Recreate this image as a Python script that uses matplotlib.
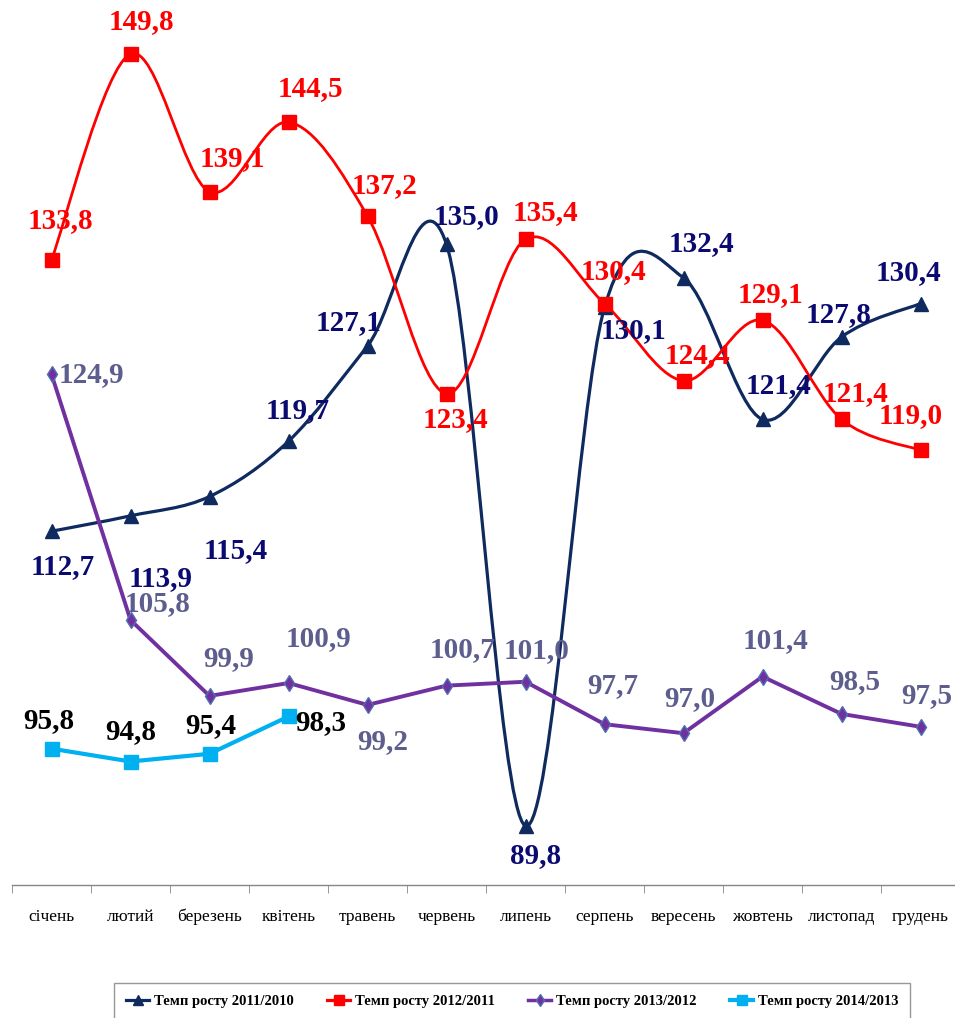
import matplotlib
matplotlib.use("Agg")
import matplotlib.pyplot as plt
from matplotlib.path import Path
from matplotlib.patches import PathPatch
from matplotlib.lines import Line2D

plt.rcParams['font.family'] = ['Liberation Serif', 'DejaVu Serif']

months = ['січень', 'лютий', 'березень', 'квітень', 'травень', 'червень',
          'липень', 'серпень', 'вересень', 'жовтень', 'листопад', 'грудень']
g2011 = [112.7, 113.9, 115.4, 119.7, 127.1, 135.0, 89.8, 130.1, 132.4, 121.4, 127.8, 130.4]
g2012 = [133.8, 149.8, 139.1, 144.5, 137.2, 123.4, 135.4, 130.4, 124.4, 129.1, 121.4, 119.0]
g2013 = [124.9, 105.8, 99.9, 100.9, 99.2, 100.7, 101.0, 97.7, 97.0, 101.4, 98.5, 97.5]
g2014 = [95.8, 94.8, 95.4, 98.3]
names = ['Темп росту 2011/2010', 'Темп росту 2012/2011',
         'Темп росту 2013/2012', 'Темп росту 2014/2013']

# label offsets in pixels (dx, dy)
off2011 = [(11, -35), (30, -63), (26, -54), (9, 31), (-19, 23), (20, 28),
           (10, -30), (29, -23), (18, 34), (16, 34), (-3, 22), (-12, 31)]
off2012 = [(9, 39), (11, 32), (23, 33), (22, 34), (17, 31), (9, -26),
           (20, 27), (9, 32), (14, 25), (8, 26), (14, 26), (-10, 35)]
off2013 = [(40, 0), (27, 16), (19, 37), (30, 44), (15, -37), (16, 36),
           (11, 31), (8, 39), (6, 35), (13, 36), (13, 32), (6, 31)]
off2014 = [(-3, 28), (0, 30), (1, 28), (32, -6)]


def smooth_path(xs, ys):
    pts = list(zip(xs, ys))
    verts = [pts[0]]
    codes = [Path.MOVETO]
    n = len(pts)
    for i in range(n - 1):
        p0 = pts[i - 1] if i > 0 else pts[i]
        p1 = pts[i]
        p2 = pts[i + 1]
        p3 = pts[i + 2] if i + 2 < n else pts[i + 1]
        c1 = (p1[0] + (p2[0] - p0[0]) / 6, p1[1] + (p2[1] - p0[1]) / 6)
        c2 = (p2[0] - (p3[0] - p1[0]) / 6, p2[1] - (p3[1] - p1[1]) / 6)
        verts += [c1, c2, p2]
        codes += [Path.CURVE4] * 3
    return Path(verts, codes)


fig = plt.figure(figsize=(9.55, 10.18), dpi=100)
ax = fig.add_axes([12 / 955, 133 / 1018, 948 / 955, 885 / 1018])
ax.set_xlim(-0.5, 11.5)
ax.set_ylim(85.2, 154.0)

x = list(range(12))
navy = '#0F2A5E'
red = '#FF0000'
purple = '#7030A0'
cyan = '#00B0F0'

ax.add_patch(PathPatch(smooth_path(x, g2011), fill=False, edgecolor=navy, lw=2.3, zorder=3))
ax.add_patch(PathPatch(smooth_path(x, g2012), fill=False, edgecolor=red, lw=2.0, zorder=3))
ax.plot(x, g2011, ls='none', marker='^', ms=10, color=navy, zorder=4)
ax.plot(x, g2012, ls='none', marker='s', ms=10, color=red, zorder=4)
ax.plot(x, g2013, color=purple, lw=2.8, marker='d', ms=8, mfc=purple, mec='#5070B0', zorder=3)
ax.plot(x[:4], g2014, color=cyan, lw=3.0, marker='s', ms=10, zorder=3)

lab = dict(textcoords='offset pixels', ha='center', va='center', fontsize=21,
           fontweight='bold')
for i, v in enumerate(g2011):
    ax.annotate(f'{v:.1f}'.replace('.', ','), (i, v), xytext=off2011[i], color='#0A0A70', **lab)
for i, v in enumerate(g2012):
    ax.annotate(f'{v:.1f}'.replace('.', ','), (i, v), xytext=off2012[i], color=red, **lab)
for i, v in enumerate(g2013):
    ax.annotate(f'{v:.1f}'.replace('.', ','), (i, v), xytext=off2013[i], color='#5E5E8E', **lab)
for i, v in enumerate(g2014):
    ax.annotate(f'{v:.1f}'.replace('.', ','), (i, v), xytext=off2014[i], color='black', **lab)

for s in ['top', 'left', 'right']:
    ax.spines[s].set_visible(False)
ax.spines['bottom'].set_color('#868686')
ax.spines['bottom'].set_linewidth(1.0)
ax.set_yticks([])
ax.set_xticks(x)
ax.set_xticklabels(months, fontsize=12.5)
ax.tick_params(axis='x', which='major', length=0, pad=17)
ax.set_xticks([i - 0.5 for i in range(13)], minor=True)
ax.tick_params(axis='x', which='minor', length=6, color='#868686', direction='out')

handles = [
    Line2D([], [], color=navy, lw=2.3, marker='^', ms=7),
    Line2D([], [], color=red, lw=2.3, marker='s', ms=7),
    Line2D([], [], color=purple, lw=2.5, marker='d', ms=6, mec='#5070B0'),
    Line2D([], [], color=cyan, lw=3.0, marker='s', ms=7),
]
leg = fig.legend(handles, names, loc='upper center', bbox_to_anchor=(512 / 955, 1 - 983 / 1018),
                 ncol=4, prop={'weight': 'bold', 'size': 10.5},
                 frameon=True, fancybox=False, edgecolor='#7F7F7F',
                 handlelength=1.6, handletextpad=0.3, columnspacing=2.3,
                 borderpad=0.8, borderaxespad=0)
leg.get_frame().set_linewidth(1.0)

fig.savefig('out.png', dpi=100)
